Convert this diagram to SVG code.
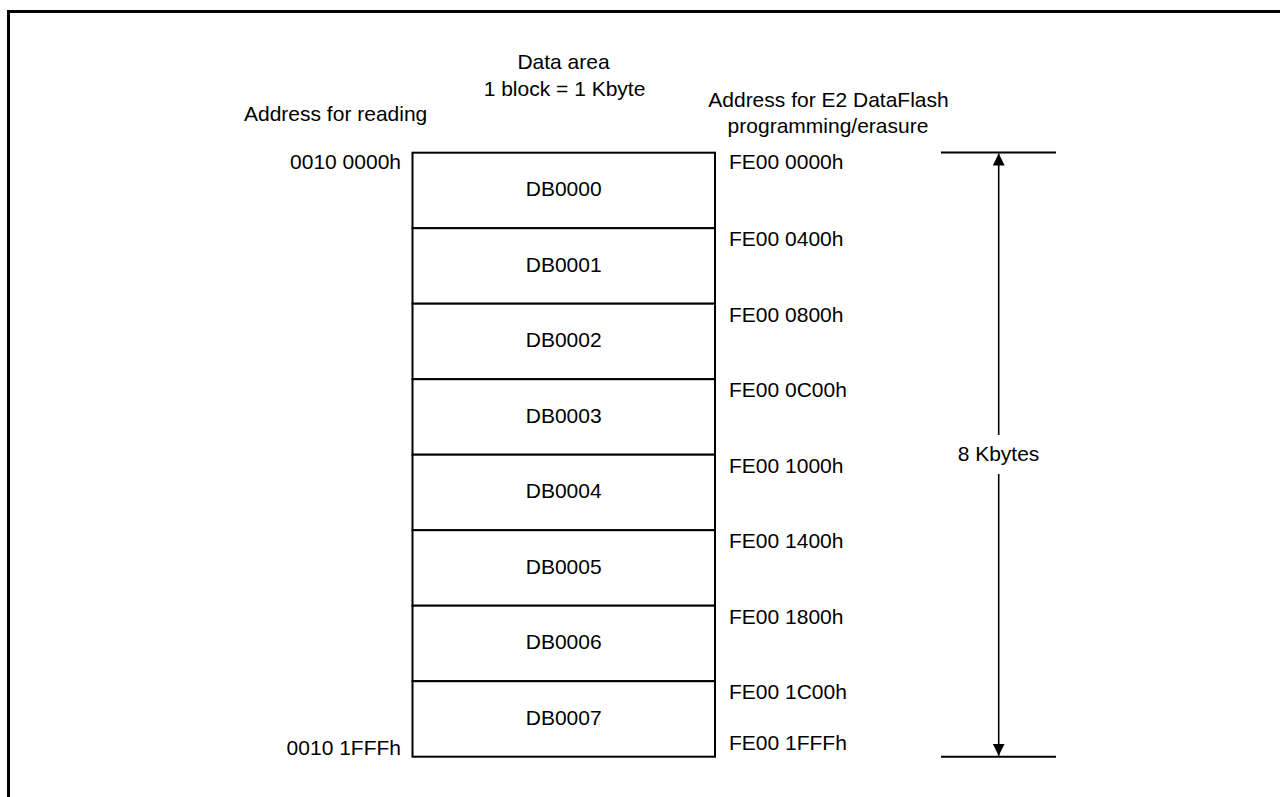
<svg xmlns="http://www.w3.org/2000/svg" width="1280" height="797" viewBox="0 0 1280 797">
<defs>
<style>
text{font-family:"Liberation Sans",Arial,sans-serif;font-size:21px;fill:#000}
.c{text-anchor:middle}
.r{text-anchor:end}
.blk{fill:#fff;stroke:#000;stroke-width:2}
.ln{stroke:#000;stroke-width:2;fill:none}
</style>
<marker id="ah" viewBox="0 0 12 12" refX="12" refY="6" markerWidth="12" markerHeight="12" markerUnits="userSpaceOnUse" orient="auto">
<path d="M0,0 L12,6 L0,12 Z" fill="#000"/>
</marker>
</defs>
<rect width="1280" height="797" fill="#fff"/>
<path d="M8.5,797 V11.5 H1280" fill="none" stroke="#000" stroke-width="3"/>

<g id="headers">
<text class="c" x="563.5" y="69">Data area</text>
<text class="c" x="564.5" y="95.5">1 block = 1 Kbyte</text>
<text x="244" y="121">Address for reading</text>
<text class="c" x="828.5" y="106.5">Address for E2 DataFlash</text>
<text class="c" x="828" y="133">programming/erasure</text>
</g>

<g id="DB0000"><rect class="blk" x="412.5" y="152.7" width="302.5" height="75.5"/><text class="c" x="563.7" y="196">DB0000</text></g>
<g id="DB0001"><rect class="blk" x="412.5" y="228.2" width="302.5" height="75.5"/><text class="c" x="563.7" y="271.5">DB0001</text></g>
<g id="DB0002"><rect class="blk" x="412.5" y="303.7" width="302.5" height="75.5"/><text class="c" x="563.7" y="347">DB0002</text></g>
<g id="DB0003"><rect class="blk" x="412.5" y="379.2" width="302.5" height="75.5"/><text class="c" x="563.7" y="422.5">DB0003</text></g>
<g id="DB0004"><rect class="blk" x="412.5" y="454.7" width="302.5" height="75.5"/><text class="c" x="563.7" y="498">DB0004</text></g>
<g id="DB0005"><rect class="blk" x="412.5" y="530.2" width="302.5" height="75.5"/><text class="c" x="563.7" y="573.5">DB0005</text></g>
<g id="DB0006"><rect class="blk" x="412.5" y="605.7" width="302.5" height="75.5"/><text class="c" x="563.7" y="649">DB0006</text></g>
<g id="DB0007"><rect class="blk" x="412.5" y="681.2" width="302.5" height="75.5"/><text class="c" x="563.7" y="724.5">DB0007</text></g>

<g id="read-addr">
<text class="r" x="401" y="169.3">0010 0000h</text>
<text class="r" x="401" y="755.3">0010 1FFFh</text>
</g>

<g id="prog-addr">
<text x="729" y="169.3">FE00 0000h</text>
<text x="729" y="246.2">FE00 0400h</text>
<text x="729" y="321.7">FE00 0800h</text>
<text x="729" y="397.2">FE00 0C00h</text>
<text x="729" y="472.7">FE00 1000h</text>
<text x="729" y="548.2">FE00 1400h</text>
<text x="729" y="623.7">FE00 1800h</text>
<text x="729" y="699.2">FE00 1C00h</text>
<text x="729" y="750">FE00 1FFFh</text>
</g>

<g id="connectors">
<line class="ln" x1="941" y1="152.5" x2="1056" y2="152.5"/>
<line class="ln" x1="941" y1="756.7" x2="1056" y2="756.7"/>
<line x1="998.7" y1="435" x2="998.7" y2="153.5" stroke="#000" stroke-width="1.6" marker-end="url(#ah)"/>
<line x1="998.7" y1="474" x2="998.7" y2="755.7" stroke="#000" stroke-width="1.6" marker-end="url(#ah)"/>
</g>
<g id="size-label"><text class="c" x="998.5" y="460.5">8 Kbytes</text></g>
</svg>
